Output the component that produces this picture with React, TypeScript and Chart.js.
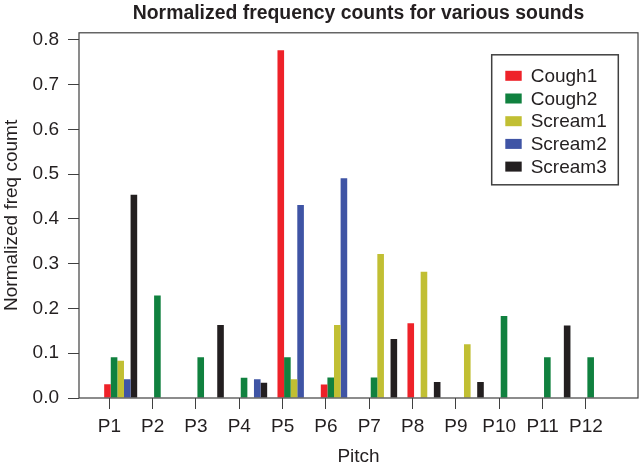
import React, { useEffect, useRef } from "react";
import { Chart, registerables } from "chart.js";

Chart.register(...registerables);

const categories = ["P1", "P2", "P3", "P4", "P5", "P6", "P7", "P8", "P9", "P10", "P11", "P12"];
const seriesNames = ["Cough1", "Cough2", "Scream1", "Scream2", "Scream3"];
const cough1 = [0.031, 0, 0, 0, 0.777, 0.030, 0, 0.167, 0, 0, 0, 0];
const cough2 = [0.091, 0.229, 0.091, 0.045, 0.091, 0.046, 0.046, 0, 0, 0.183, 0.091, 0.091];
const scream1 = [0.083, 0, 0, 0, 0.042, 0.163, 0.322, 0.282, 0.120, 0, 0, 0];
const scream2 = [0.042, 0, 0, 0.042, 0.431, 0.491, 0, 0, 0, 0, 0, 0];
const scream3 = [0.454, 0, 0.163, 0.034, 0, 0, 0.132, 0.036, 0.036, 0, 0.162, 0];
const yTickValues = [0, 0.1, 0.2, 0.3, 0.4, 0.5, 0.6, 0.7, 0.8];
const colors = ["#ee2229", "#10813f", "#c1bf33", "#3f54a5", "#231f20"];
const titleText = "Normalized frequency counts for various sounds";

const seriesValues = [cough1, cough2, scream1, scream2, scream3];
const FONT = "'Liberation Sans', Arial, Helvetica, sans-serif";
const TEXT = "#231f20";
const LINE = "#404040";
const TICK_SHIFT = 0.262;

const boxPlugin = {
  id: "boxAndLegend",
  afterDraw(chart: any) {
    const { ctx, chartArea } = chart;
    ctx.save();
    // title centred over the plot region
    ctx.fillStyle = TEXT;
    ctx.font = `bold 19.4px ${FONT}`;
    ctx.textAlign = "center";
    ctx.textBaseline = "middle";
    ctx.fillText(titleText, (chartArea.left + chartArea.right) / 2, 13.5);

    ctx.strokeStyle = LINE;
    ctx.lineWidth = 1.2;
    ctx.strokeRect(chartArea.left, chartArea.top, chartArea.right - chartArea.left, chartArea.bottom - chartArea.top);

    const bw = 126.6;
    const bh = 130;
    const bx = chartArea.right - 19.7 - bw;
    const by = chartArea.top + 22;
    ctx.fillStyle = "#ffffff";
    ctx.fillRect(bx, by, bw, bh);
    ctx.lineWidth = 1.5;
    ctx.strokeRect(bx, by, bw, bh);
    ctx.font = `19px ${FONT}`;
    ctx.textBaseline = "middle";
    ctx.textAlign = "left";
    chart.data.datasets.forEach((ds: any, i: number) => {
      const cy = by + 21 + i * 22.7;
      ctx.fillStyle = ds.backgroundColor;
      ctx.fillRect(bx + 13.6, cy - 5, 16.4, 10);
      ctx.fillStyle = TEXT;
      ctx.fillText(ds.label, bx + 39, cy + 1);
    });
    ctx.restore();
  },
};

export default function App() {
  const ref = useRef<HTMLCanvasElement>(null);
  useEffect(() => {
    if (!ref.current) return;
    const chart = new Chart(ref.current, {
      type: "bar",
      data: {
        datasets: seriesNames.map((name, s) => ({
          label: name,
          data: seriesValues[s].map((v, i) => ({ x: i, y: v })),
          backgroundColor: colors[s],
          borderWidth: 0,
          categoryPercentage: 0.762,
          barPercentage: 1,
        })),
      },
      plugins: [boxPlugin],
      options: {
        animation: false,
        responsive: false,
        layout: { padding: { left: 0, right: 3, top: 32.8, bottom: 0 } },
        plugins: {
          legend: { display: false },
          tooltip: { enabled: false },
          title: { display: false },
        },
        scales: {
          x: {
            type: "linear",
            min: -0.962,
            max: 11.94,
            offset: false,
            afterBuildTicks: (scale: any) => {
              scale.ticks = categories.map((_, i) => ({ value: i - TICK_SHIFT }));
            },
            afterFit: (scale: any) => {
              scale.height = 73;
            },
            ticks: {
              autoSkip: false,
              maxRotation: 0,
              minRotation: 0,
              padding: 6,
              color: TEXT,
              font: { family: FONT, size: 19 },
              callback: (_v: any, i: number) => categories[i],
            },
            grid: {
              display: true,
              offset: false,
              drawOnChartArea: false,
              drawTicks: true,
              tickLength: 11,
              color: LINE,
              tickColor: LINE,
              tickWidth: 1,
            },
            border: { display: false },
            title: {
              display: true,
              text: "Pitch",
              color: TEXT,
              font: { family: FONT, size: 19, lineHeight: 1.2 },
              padding: { top: 0, bottom: 2.6 },
            },
          },
          y: {
            type: "linear",
            min: 0,
            max: 0.816,
            afterBuildTicks: (scale: any) => {
              scale.ticks = yTickValues.map((v) => ({ value: v }));
            },
            afterFit: (scale: any) => {
              scale.width = 79;
            },
            ticks: {
              padding: 9,
              color: TEXT,
              font: { family: FONT, size: 19 },
              callback: (v: any) => Number(v).toFixed(1),
            },
            grid: {
              display: true,
              drawOnChartArea: false,
              drawTicks: true,
              tickLength: 11,
              color: LINE,
              tickColor: LINE,
              tickWidth: 1,
            },
            border: { display: false },
            title: {
              display: true,
              text: "Normalized freq coumt",
              color: TEXT,
              font: { family: FONT, size: 19, lineHeight: 1.2 },
              padding: { top: 0, bottom: 0 },
            },
          },
        },
      } as any,
    });
    return () => chart.destroy();
  }, []);
  return (
    <div style={{ position: "absolute", left: 0, top: 0, width: 641, height: 471, background: "#fff" }}>
      <canvas ref={ref} width={641} height={471} style={{ display: "block" }} />
    </div>
  );
}
